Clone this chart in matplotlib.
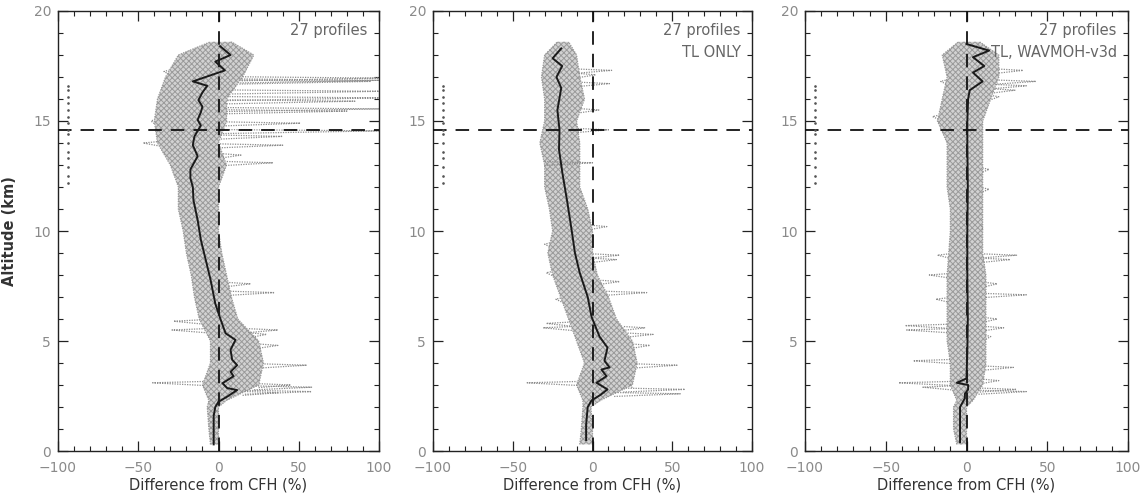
import numpy as np
import matplotlib
matplotlib.use("Agg")
import matplotlib.pyplot as plt
from matplotlib.ticker import MultipleLocator

# ---------------- data ----------------
titles = [["27 profiles"], ["27 profiles", "TL ONLY"], ["27 profiles", "TL, WAVMOH-v3d"]]
xlabel = "Difference from CFH (%)"
ylabel = "Altitude (km)"
xticks = [-100, -50, 0, 50, 100]
yticks = [0, 5, 10, 15, 20]
tropopause_mean = 14.6

# median (black) profiles
med1_alt = [0.3, 1.0, 1.6, 2.0, 2.24, 2.47, 2.77, 2.86, 3.08, 3.4, 3.6, 3.9, 4.15, 4.6, 5.05, 5.35, 6.0, 6.7,
            7.8, 8.7, 9.6, 10.5, 11.4, 12.0, 12.4, 12.8, 13.4, 13.9, 14.3, 14.8, 15.05, 15.4, 15.65, 15.95,
            16.3, 16.6, 16.8, 17.3, 17.7, 18.0, 18.4]
med1_x = [-3, -3, -3, -2, 0, 5.4, 11.6, 5.4, 2.5, 9.4, 7.5, 11.6, 8.5, 7.5, 10.6, 4.4, 1.2, -2,
          -5, -8, -11, -13, -15.6, -16, -17.5, -17.5, -13, -16, -15, -11, -13, -11, -10, -12.5,
          -10, -7, -16, 4, -2, 7.5, 1]

med2_alt = [0.5, 1.2, 2.0, 2.3, 2.55, 2.8, 3.1, 3.4, 3.7, 3.8, 4.1, 4.7, 5.2, 6.1, 7.0, 8.1, 9.0, 10.0,
            11.4, 12.6, 13.7, 14.6, 15.5, 16.5, 17.0, 17.5, 17.85, 18.3]
med2_x = [-4, -4, -3, -0.6, 5, 9.4, 2.5, 8.8, 5.6, 10.7, 7.5, 9.4, 4.4, -0.6, -3, -8, -11, -13,
          -16, -18.8, -21, -20.7, -22, -19.6, -22.6, -19, -25, -19.6]

med3_alt = [0.4, 1.2, 2.0, 2.4, 2.6, 2.8, 3.0, 3.1, 3.3, 4.5, 6.0, 8.0, 10.0, 12.0, 14.0, 15.0, 16.0,
            16.4, 16.8, 17.2, 17.5, 17.9, 18.2, 18.5]
med3_x = [-4, -4, -4, -1, -1, 1, 1, -6, 0, 0.5, 0.8, 0.5, 0.5, 0.8, 0.5, 0.5, 1,
          2, 10, 4, 11, 4, 14, 0]

# envelope of the bulk of the 27 profiles
env_alt = [0.3, 1, 2, 2.3, 3, 4, 5, 6, 7, 8, 9, 10, 11, 12, 13, 14, 15, 16, 17, 18, 18.6]
lo1 = [-5, -6, -7, -6, -10, -5, -5, -12, -15, -17, -20, -22, -25, -25, -30, -38, -40, -38, -33, -25, -5]
hi1 = [0, 0, 0, 5, 25, 28, 25, 12, 8, 5, 2, 0, 0, 0, 5, 0, 5, 5, 15, 22, 8]
lo2 = [-8, -7, -6, -6, -10, -5, -10, -15, -20, -25, -28, -25, -27, -30, -30, -33, -30, -30, -32, -30, -22]
hi2 = [0, 0, -1, 5, 25, 28, 25, 15, 10, 3, 0, 0, -3, -8, -8, -8, -10, -5, -8, -10, -15]
lo3 = [-6, -8, -8, -6, -10, -10, -12, -12, -12, -12, -11, -10, -10, -12, -12, -12, -18, -15, -12, -15, -5]
hi3 = [0, 0, 0, 4, 10, 12, 12, 12, 12, 12, 10, 10, 10, 10, 10, 10, 10, 15, 20, 20, 8]

# isolated excursions (spikes) of individual profiles
spk1_alt = [17.25, 16.95, 16.85, 16.8, 16.35, 16.05, 15.9, 15.55, 15.45, 14.9, 14.55, 14.3, 13.9, 13.45,
            13.1, 14.0, 15.0, 7.6, 7.2, 5.9, 5.5, 5.5, 5.3, 4.8, 3.9, 3.1, 3.0, 2.9, 2.7, 2.65]
spk1_x = [-34, 100, 100, 95, 100, 100, 85, 100, 80, 51, 100, 40, 40, 14,
          34, -47, -42, 20, 35, -28, -29, 37, 30, 37, 55, -41, 45, 58, 58, 37]
spk2_alt = [17.3, 17.1, 16.7, 15.5, 14.6, 13.1, 10.2, 9.4, 8.9, 8.7, 8.1, 7.7, 7.2, 6.9, 5.8, 5.6, 5.6,
            5.3, 4.8, 3.9, 3.1, 3.0, 2.8, 2.6]
spk2_x = [12, 2, 10.6, 4, 10, 0, 9, -30, 17, 15, -29, 17, 34, -23, -29, -31, 33,
          38, 36, 53, -41, 23, 58, 55]
spk3_alt = [17.3, 16.8, 16.6, 16.4, 16.1, 15.2, 16.8, 12.8, 11.9, 10.2, 8.9, 8.9, 8.7, 8.0, 7.6, 7.1,
            6.9, 6.0, 5.7, 5.5, 5.6, 5.2, 4.1, 3.8, 3.2, 3.1, 2.9, 2.7, 2.8]
spk3_x = [35, 43, 37, 30, 20, -21, -16, 14, 14, 9.5, -18, 31, 27, -23, 19, 37,
          -19, 19, -38, -37, 23, 15, -33, 29, 20, -42, -27, 37, 31]

# individual tropopause heights (dots at the left)
trop_alt = [12.2, 12.5, 12.9, 13.3, 13.6, 14.0, 14.4, 14.6, 14.9, 15.2, 15.5, 15.8, 16.1, 16.4, 16.6]

panels = [
    dict(med_alt=med1_alt, med_x=med1_x, lo=lo1, hi=hi1, s_alt=spk1_alt, s_x=spk1_x),
    dict(med_alt=med2_alt, med_x=med2_x, lo=lo2, hi=hi2, s_alt=spk2_alt, s_x=spk2_x),
    dict(med_alt=med3_alt, med_x=med3_x, lo=lo3, hi=hi3, s_alt=spk3_alt, s_x=spk3_x),
]

# ---------------- drawing ----------------
W, H = 1141, 498
fig = plt.figure(figsize=(W / 100, H / 100), dpi=100)
plt.rcParams['hatch.linewidth'] = 0.7

ax_boxes = [(58, 379), (433, 752), (805, 1128)]
top_px, bot_px = 11, 451
grey_txt = '#8a8a8a'
dash = (0, (7.5, 5))

for i, (p, (xl, xr)) in enumerate(zip(panels, ax_boxes)):
    ax = fig.add_axes([xl / W, 1 - bot_px / H, (xr - xl) / W, (bot_px - top_px) / H])
    ax.set_xlim(-100, 100)
    ax.set_ylim(0, 20)

    ea = np.array(env_alt)
    lo = np.array(p['lo'])
    hi = np.array(p['hi'])
    ax.fill_betweenx(ea, lo, hi, facecolor='#d2d2d2', edgecolor='#9a9a9a', hatch='xxxxxx',
                     linewidth=0, zorder=1)
    ax.plot(lo, ea, color='#999999', lw=0.9, ls=(0, (1, 1)), zorder=2)
    ax.plot(hi, ea, color='#999999', lw=0.9, ls=(0, (1, 1)), zorder=2)

    for sa, sx in zip(p['s_alt'], p['s_x']):
        base = np.interp(sa, ea, hi if sx > 0 else lo)
        ax.plot([base, sx, base], [sa - 0.12, sa, sa + 0.06], color='#8c8c8c', lw=0.9,
                ls=(0, (1, 1)), zorder=2, clip_on=True)

    ax.plot(p['med_x'], p['med_alt'], color='#1a1a1a', lw=1.4, zorder=4)

    ax.axvline(0, color='#111111', lw=1.3, ls=dash, zorder=3)
    ax.axhline(tropopause_mean, color='#111111', lw=1.3, ls=dash, zorder=3)

    ax.plot([-94] * len(trop_alt), trop_alt, ls='none', marker='.', ms=1.8, color='#555555', zorder=3)

    ax.set_xticks(xticks)
    ax.set_yticks(yticks)
    ax.xaxis.set_minor_locator(MultipleLocator(10))
    ax.yaxis.set_minor_locator(MultipleLocator(1))
    ax.tick_params(which='both', direction='in', top=True, right=True, colors='#222222',
                   labelcolor=grey_txt, labelsize=10)
    ax.tick_params(which='major', length=7, width=0.9)
    ax.tick_params(which='minor', length=3.5, width=0.8)
    ax.tick_params(axis='x', pad=7)
    ax.tick_params(axis='y', pad=5)
    for s in ax.spines.values():
        s.set_linewidth(1.0)
        s.set_color('#222222')

    ax.set_xlabel(xlabel, fontsize=10.5, color='#333333', labelpad=2)
    if i == 0:
        ax.set_ylabel(ylabel, fontsize=10.5, color='#333333', fontweight='bold', labelpad=12)

    for j, t in enumerate(titles[i]):
        ax.text(0.965, 0.955 - j * 0.05, t, transform=ax.transAxes, ha='right', va='center',
                fontsize=10.5, color='#666666')

fig.savefig('out.png', dpi=100)
